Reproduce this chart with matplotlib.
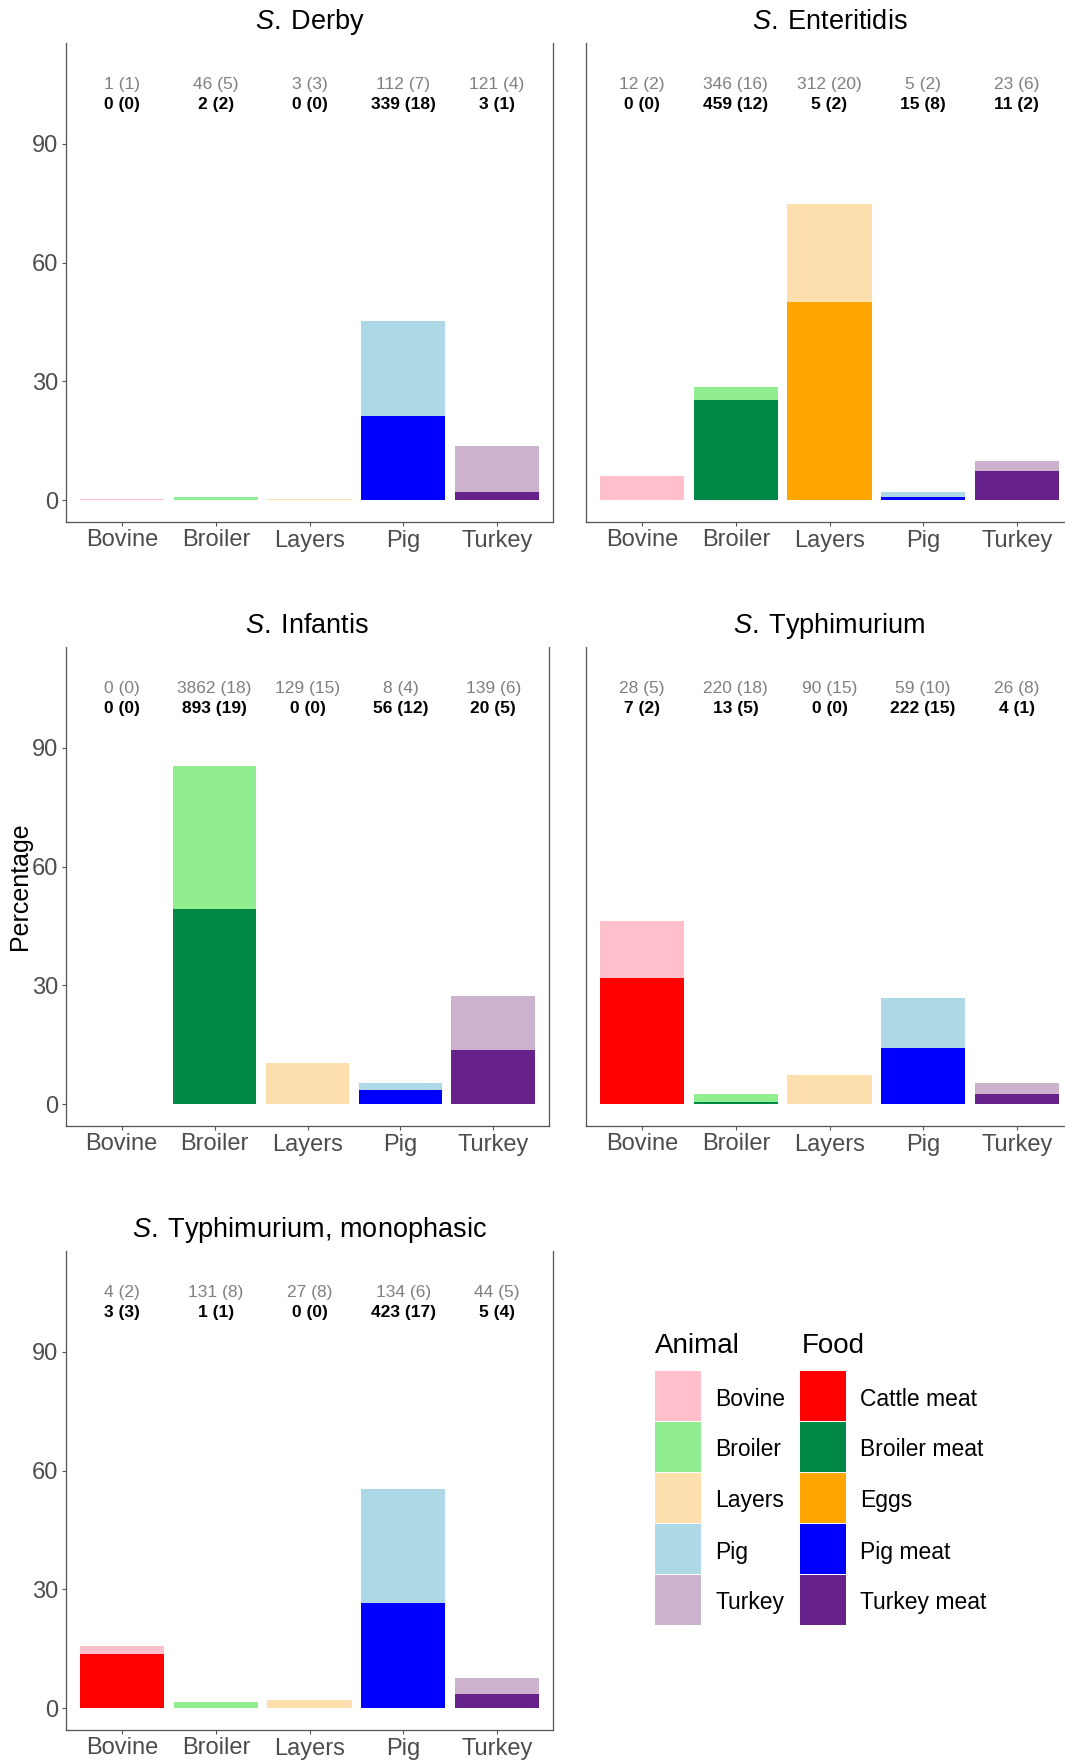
import numpy as np
import matplotlib
matplotlib.use("Agg")
import matplotlib.pyplot as plt
from matplotlib.patches import Rectangle

plt.rcParams['font.family'] = ['Liberation Sans', 'DejaVu Sans']
plt.rcParams['mathtext.fontset'] = 'custom'
plt.rcParams['mathtext.it'] = 'Liberation Sans:italic'
plt.rcParams['mathtext.rm'] = 'Liberation Sans'

# categories and colours
categories = ["Bovine", "Broiler", "Layers", "Pig", "Turkey"]
food_names = ["Cattle meat", "Broiler meat", "Eggs", "Pig meat", "Turkey meat"]
animal_colors = ["#FFC0CB", "#90EE90", "#FDDEAD", "#ADD8E6", "#CCB2CC"]
food_colors = ["#FF0000", "#008844", "#FFA500", "#0000FF", "#66228A"]

# percentages
derby_animal = [0.4, 0.7, 0.4, 45.3, 13.8]
derby_food = [0.0, 0.0, 0.0, 21.3, 2.1]
enteritidis_animal = [6.0, 28.5, 74.8, 2.1, 9.9]
enteritidis_food = [0.0, 25.3, 50.2, 0.9, 7.5]
infantis_animal = [0.0, 85.5, 10.3, 5.4, 27.3]
infantis_food = [0.0, 49.4, 0.0, 3.5, 13.8]
typhi_animal = [46.3, 2.7, 7.3, 26.9, 5.4]
typhi_food = [31.9, 0.6, 0.0, 14.2, 2.7]
mono_animal = [15.7, 1.5, 2.1, 55.4, 7.6]
mono_food = [13.6, 0.0, 0.0, 26.7, 3.5]

# sample counts: isolates (number of countries)
derby_animal_n = [1, 46, 3, 112, 121]
derby_animal_k = [1, 5, 3, 7, 4]
derby_food_n = [0, 2, 0, 339, 3]
derby_food_k = [0, 2, 0, 18, 1]
enteritidis_animal_n = [12, 346, 312, 5, 23]
enteritidis_animal_k = [2, 16, 20, 2, 6]
enteritidis_food_n = [0, 459, 5, 15, 11]
enteritidis_food_k = [0, 12, 2, 8, 2]
infantis_animal_n = [0, 3862, 129, 8, 139]
infantis_animal_k = [0, 18, 15, 4, 6]
infantis_food_n = [0, 893, 0, 56, 20]
infantis_food_k = [0, 19, 0, 12, 5]
typhi_animal_n = [28, 220, 90, 59, 26]
typhi_animal_k = [5, 18, 15, 10, 8]
typhi_food_n = [7, 13, 0, 222, 4]
typhi_food_k = [2, 5, 0, 15, 1]
mono_animal_n = [4, 131, 27, 134, 44]
mono_animal_k = [2, 8, 8, 6, 5]
mono_food_n = [3, 1, 0, 423, 5]
mono_food_k = [3, 1, 0, 17, 4]

W, H = 1065, 1764
fig = plt.figure(figsize=(W / 100, H / 100), dpi=100)


def px_axes(left, top, right, bottom):
    return fig.add_axes([left / W, 1 - bottom / H, (right - left) / W, (bottom - top) / H])


def draw_panel(ax, name, animal, food, an, ak, fn, fk, show_y=True):
    x = np.arange(1, len(categories) + 1)
    ax.bar(x, animal, width=0.9, color=animal_colors, linewidth=0)
    ax.bar(x, food, width=0.9, color=food_colors, linewidth=0)
    for xi, n, k in zip(x, an, ak):
        ax.text(xi, 105, f"{n} ({k})", ha='center', va='center', fontsize=12.5, color='#808080')
    for xi, n, k in zip(x, fn, fk):
        ax.text(xi, 100, f"{n} ({k})", ha='center', va='center', fontsize=12.5,
                color='black', fontweight='bold')
    ax.set_xlim(0.4, 5.6)
    ax.set_ylim(-5.5, 115.5)
    ax.set_xticks(x)
    ax.set_xticklabels(categories)
    ax.set_yticks([0, 30, 60, 90])
    ax.tick_params(axis='both', length=2.9, width=0.8, color='#555555',
                   labelcolor='#4D4D4D', labelsize=17, pad=2.5)
    if not show_y:
        ax.tick_params(axis='y', left=False, labelleft=False)
    ax.spines['top'].set_visible(False)
    for s in ['left', 'right', 'bottom']:
        ax.spines[s].set_color('#555555')
        ax.spines[s].set_linewidth(0.9)
    ax.text(0.5, 1 + 21 / 479, r"$\mathit{S.}$" + "\u2009" + name, transform=ax.transAxes,
            ha='center', va='center', fontsize=19.5)


ax1 = px_axes(66, 43, 553, 522)
draw_panel(ax1, "Derby", derby_animal, derby_food, derby_animal_n, derby_animal_k,
           derby_food_n, derby_food_k)
ax2 = px_axes(586, 43, 1073, 522)
draw_panel(ax2, "Enteritidis", enteritidis_animal, enteritidis_food, enteritidis_animal_n,
           enteritidis_animal_k, enteritidis_food_n, enteritidis_food_k, show_y=False)
ax3 = px_axes(66, 647, 549, 1126)
draw_panel(ax3, "Infantis", infantis_animal, infantis_food, infantis_animal_n,
           infantis_animal_k, infantis_food_n, infantis_food_k)
ax4 = px_axes(586, 647, 1073, 1126)
draw_panel(ax4, "Typhimurium", typhi_animal, typhi_food, typhi_animal_n, typhi_animal_k,
           typhi_food_n, typhi_food_k, show_y=False)
ax5 = px_axes(66, 1251, 553, 1730)
draw_panel(ax5, "Typhimurium, monophasic", mono_animal, mono_food, mono_animal_n,
           mono_animal_k, mono_food_n, mono_food_k)

fig.text(20 / W, 1 - 886 / H, "Percentage", rotation=90, ha='center', va='center', fontsize=18)

# legend drawn in pixel coordinates
leg = fig.add_axes([0, 0, 1, 1])
leg.set_xlim(0, W)
leg.set_ylim(H, 0)
leg.axis('off')
key_w, key_h, key_step, key_top = 46, 50, 51, 1371
for col_x, label_x, title, names, cols in [(655, 715, "Animal", categories, animal_colors),
                                           (800, 860, "Food", food_names, food_colors)]:
    leg.text(col_x + (2 if title == "Food" else 0), 1346, title, ha='left', va='center', fontsize=20)
    for i, (nm, c) in enumerate(zip(names, cols)):
        y0 = key_top + i * key_step
        leg.add_patch(Rectangle((col_x, y0), key_w, key_h, facecolor=c, edgecolor='none'))
        leg.text(label_x, y0 + key_h / 2 + 3, nm, ha='left', va='center', fontsize=16.5)

fig.savefig("out.png", dpi=100)
